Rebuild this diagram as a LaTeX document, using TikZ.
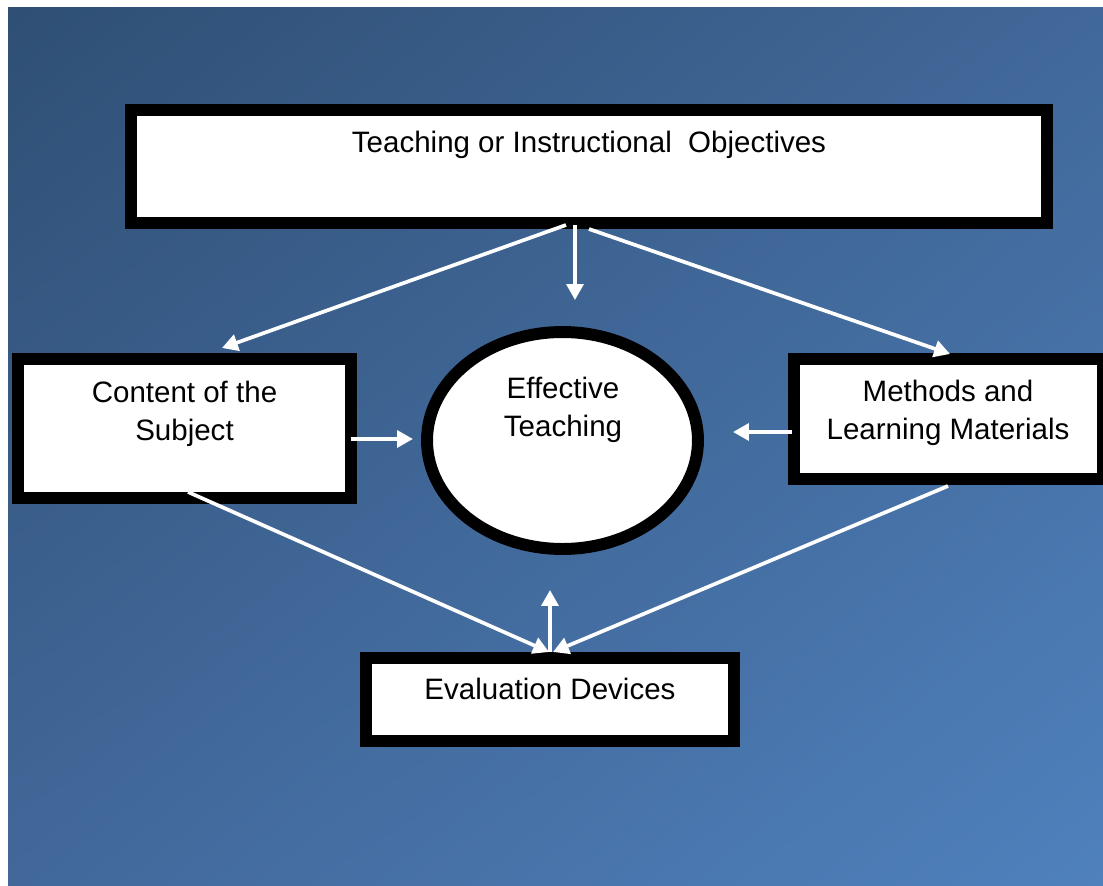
\documentclass[tikz,border=0pt]{standalone}
\usepackage{fontspec}
\setmainfont{Liberation Sans}
\usetikzlibrary{arrows.meta,shapes.geometric,shadings}
\definecolor{fondA}{RGB}{47,79,116}
\definecolor{fondB}{RGB}{65,104,153}
\definecolor{fondC}{RGB}{66,104,154}
\definecolor{fondD}{RGB}{79,129,189}
\newcommand{\fleche}[2]{\draw[fl] (#1) -- (#2)}
\newcommand{\texte}[3]{\node[txt] (#1) at (#2) {#3}}

\begin{document}
\begin{tikzpicture}[x=0.02cm, y=-0.02cm,
	epais/.style = {line width=6.8pt},
	cadre/.style = {draw, epais, fill=white, rectangle, inner sep=0pt},
	txt/.style = {align=center, inner sep=0pt, font=\fontsize{16.8}{22}\selectfont},
	fl/.style = {draw=white, line width=2.1pt, -{Triangle[length=9pt,width=9.5pt]}, white}]
\useasboundingbox (0,0) rectangle (1103,886);
%Background
	\shade[upper left=fondA, upper right=fondB, lower left=fondC, lower right=fondD]
		(8,7) rectangle (1103,886);
%The boxes
	\node[cadre, minimum width=18.32cm, minimum height=2.26cm] (obj) at (589,166.5) {};
	\node[cadre, minimum width=6.66cm, minimum height=2.78cm] (cont) at (184.5,428.5) {};
	\node[cadre, minimum width=6.18cm, minimum height=2.40cm] (meth) at (948.5,419) {};
	\node[cadre, minimum width=7.36cm, minimum height=1.66cm] (eval) at (550,699.5) {};
	\node[cadre, ellipse, minimum width=5.42cm, minimum height=4.34cm] (eff) at (562.5,440.5) {};
%Texts
	\texte{tobj}{589,145}{Teaching or Instructional\ \ Objectives};
	\texte{tcont}{184.5,414}{Content of the\\Subject};
	\texte{tmeth}{948,413}{Methods and\\Learning Materials};
	\texte{teff}{563,410}{Effective\\Teaching};
	\texte{teval}{550,689}{Evaluation Devices};
%Ends of the arrows
	\coordinate (o1) at (566,225);
	\coordinate (o2) at (575,225);
	\coordinate (o3) at (589,229);
	\coordinate (c1) at (222,348);
	\coordinate (c2) at (351,439);
	\coordinate (c3) at (188,492);
	\coordinate (m1) at (950,354);
	\coordinate (m2) at (792,432);
	\coordinate (m3) at (948,486);
	\coordinate (e1) at (575,300);
	\coordinate (e2) at (413,439);
	\coordinate (e3) at (733,432);
	\coordinate (e4) at (550,590);
	\coordinate (v1) at (549,652);
	\coordinate (v2) at (553,652);
	\coordinate (v3) at (550,652);
%Arrows
	\fleche{o1}{c1};
	\fleche{o2}{e1};
	\fleche{o3}{m1};
	\fleche{c2}{e2};
	\fleche{m2}{e3};
	\fleche{c3}{v1};
	\fleche{m3}{v2};
	\fleche{v3}{e4};
\end{tikzpicture}
\end{document}
